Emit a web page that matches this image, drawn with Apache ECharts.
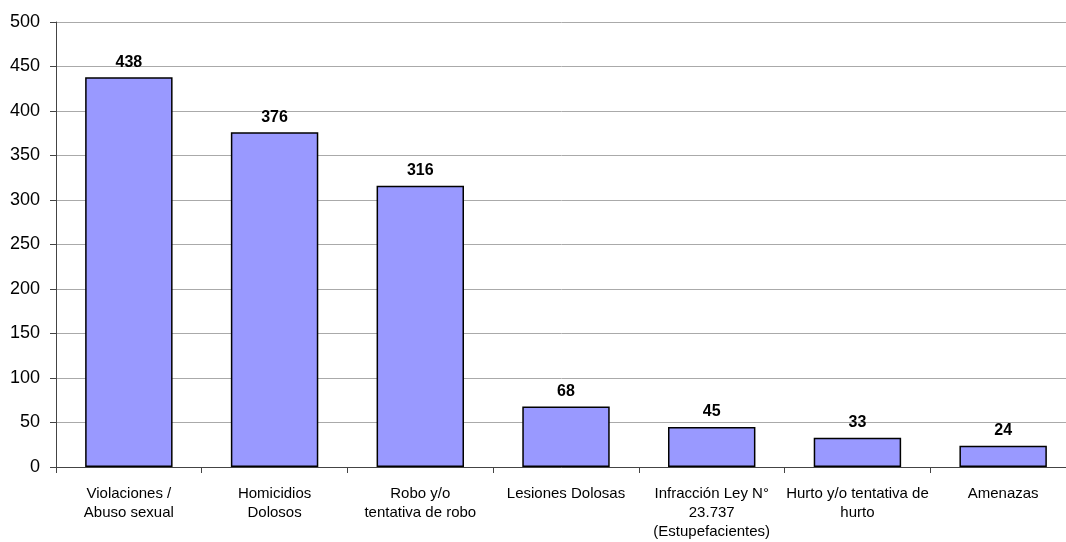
<!DOCTYPE html>
<html><head><meta charset="utf-8">
<script src="https://cdn.jsdelivr.net/npm/echarts@6/dist/echarts.min.js"></script>
<style>html,body{margin:0;padding:0;background:#fff;overflow:hidden}#c{width:1066px;height:542px}</style>
</head><body><div id="c"></div>
<script>
const categories = ["Violaciones /\nAbuso sexual","Homicidios\nDolosos","Robo y/o\ntentativa de robo","Lesiones Dolosas","Infracción Ley N°\n23.737\n(Estupefacientes)","Hurto y/o tentativa de\nhurto","Amenazas"];
const values = [438,376,316,68,45,33,24];
const yTicks = {min:0,max:500,interval:50};
const chart = echarts.init(document.getElementById('c'));
chart.setOption({
  animation:false,
  grid:{left:56,right:-10,top:22,bottom:75,containLabel:false,outerBoundsMode:'none'},
  xAxis:{type:'category',data:categories,
    axisLine:{lineStyle:{color:'#444',width:1}},
    axisTick:{show:true,alignWithLabel:false,length:6,lineStyle:{color:'#444'}},
    axisLabel:{interval:0,color:'#000',fontFamily:'Liberation Sans, Arial',fontSize:15,lineHeight:19,margin:17}},
  yAxis:{type:'value',min:yTicks.min,max:yTicks.max,interval:yTicks.interval,
    axisLine:{show:true,lineStyle:{color:'#444'}},
    axisTick:{show:true,length:6,lineStyle:{color:'#444'}},
    splitLine:{lineStyle:{color:'#aaa',width:1}},
    axisLabel:{color:'#000',fontFamily:'Liberation Sans, Arial',fontSize:18,margin:16}},
  series:[{type:'bar',data:values,barWidth:'60%',
    itemStyle:{color:'#9999FF',borderColor:'#000',borderWidth:1.5},
    label:{show:true,position:'top',color:'#000',fontWeight:'bold',fontFamily:'Liberation Sans, Arial',fontSize:16,distance:7}}]
});
</script></body></html>
